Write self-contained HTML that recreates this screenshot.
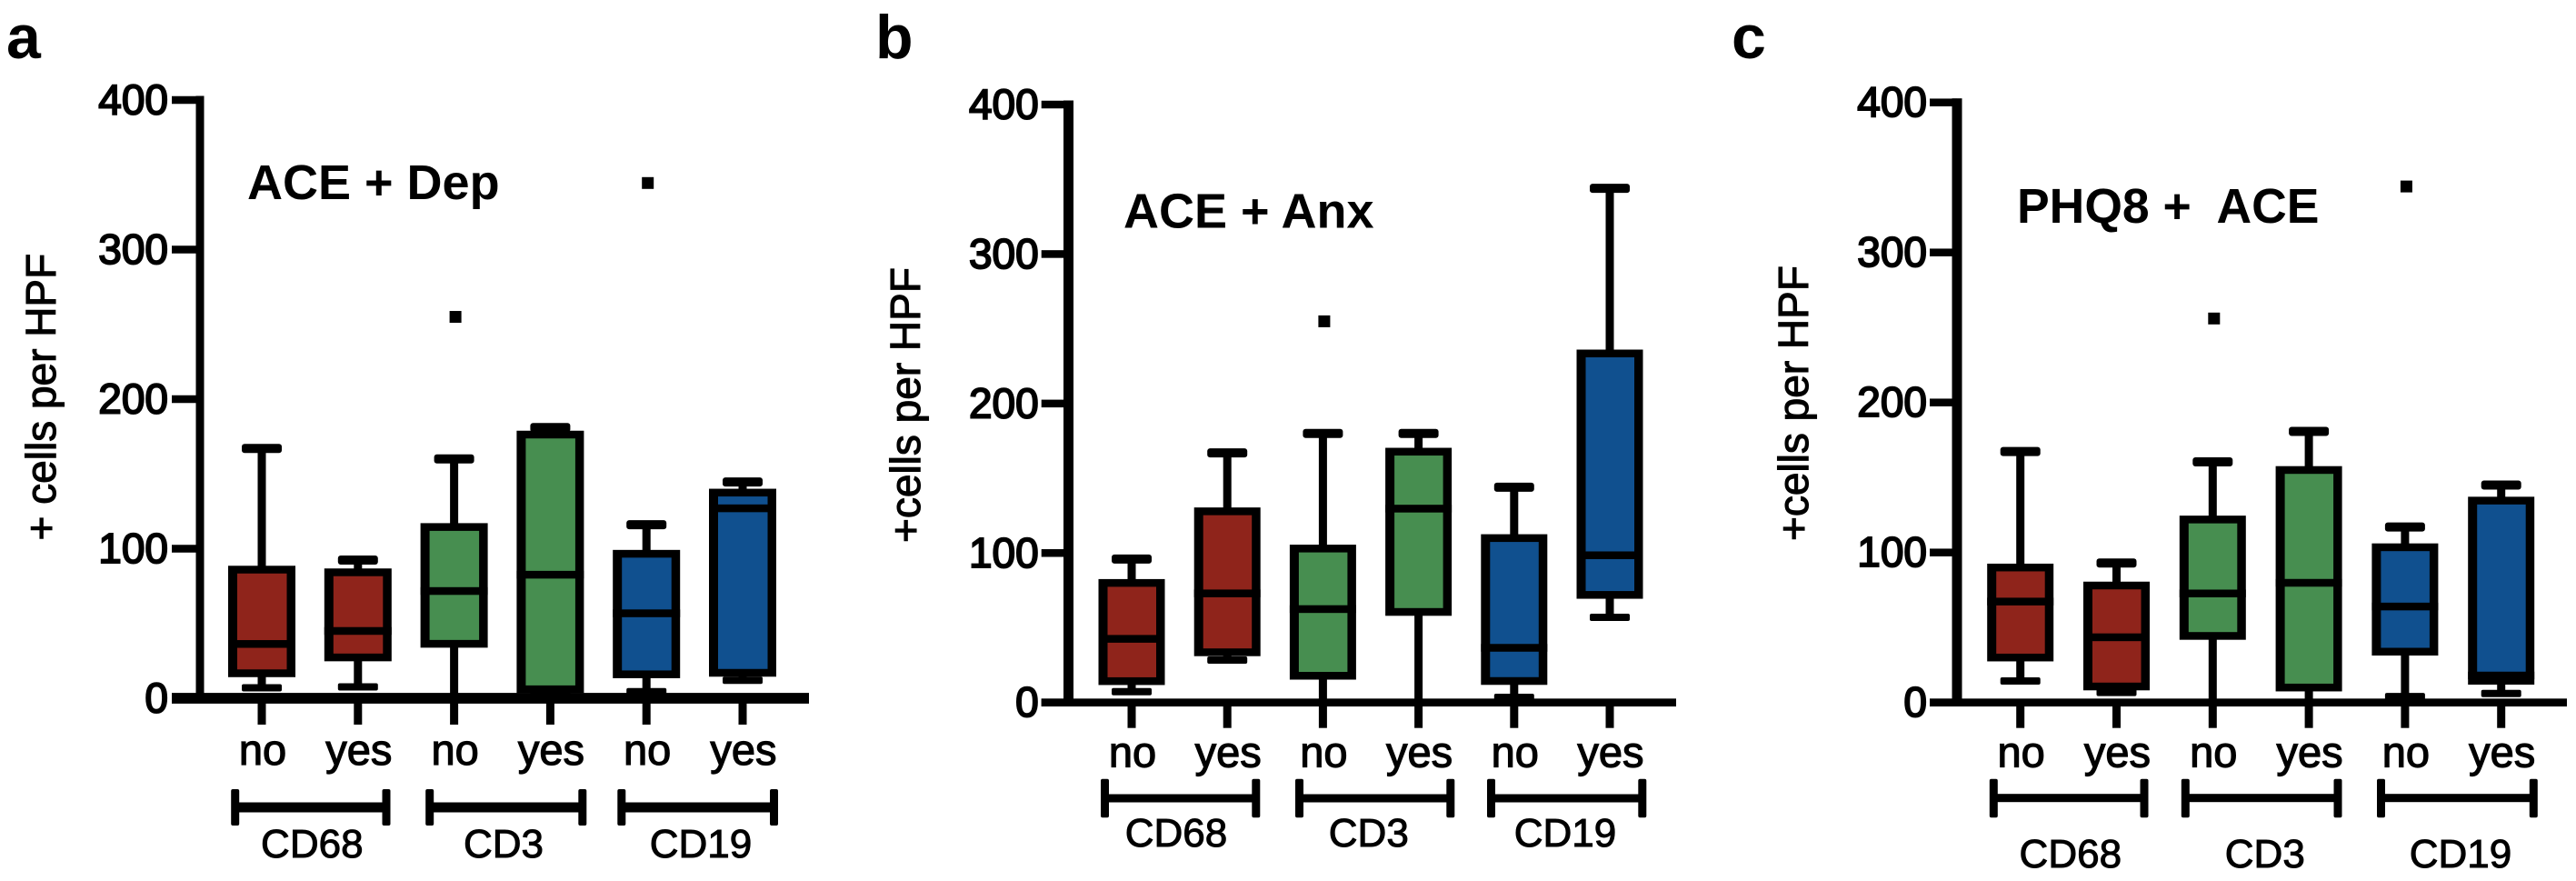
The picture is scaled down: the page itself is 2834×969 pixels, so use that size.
<!DOCTYPE html>
<html lang="en">
<head>
<meta charset="utf-8">
<title>Immune cell counts per HPF by ACE, depression and anxiety status</title>
<style>
  html, body { margin: 0; padding: 0; background: #fff; }
  body { width: 2834px; height: 969px; overflow: hidden; }
  svg { display: block; }
  text { font-family: "Liberation Sans", Arial, sans-serif; fill: #000; }
  .panel-letter { font-size: 68px; font-weight: 700; }
  .panel-title { font-size: 54px; font-weight: 700; white-space: pre; }
  .y-title { font-size: 46px; stroke: #000; stroke-width: 1.1px; }
  .tick-label { font-size: 46px; stroke: #000; stroke-width: 1.9px; text-anchor: end; }
  .cat-label { font-size: 47px; stroke: #000; stroke-width: 1.2px; text-anchor: middle; }
  .group-label { font-size: 44px; stroke: #000; stroke-width: 1px; text-anchor: middle; }
</style>
</head>
<body>
<svg id="figure" xmlns="http://www.w3.org/2000/svg" width="2834" height="969" viewBox="0 0 2834 969">
  <rect x="0" y="0" width="2834" height="969" fill="#fff"/>

  <g id="panel-a"></g>
  <g id="panel-b"></g>
  <g id="panel-c"></g>

  <text class="panel-letter" x="7" y="64">a</text>
  <text class="panel-letter" x="963" y="64">b</text>
  <text class="panel-letter" x="1905" y="64">c</text>

  <text class="panel-title" x="272" y="219">ACE + Dep</text>
  <text class="panel-title" x="1236" y="250.5">ACE + Anx</text>
  <text class="panel-title" x="2219" y="245" style="font-size:53.5px">PHQ8 +  ACE</text>

  <text class="y-title" transform="translate(61 594.5) rotate(-90)" x="0" y="0">+ cells per HPF</text>
  <text class="y-title" transform="translate(1012 597) rotate(-90)" x="0" y="0">+cells per HPF</text>
  <text class="y-title" transform="translate(1989 595) rotate(-90)" x="0" y="0">+cells per HPF</text>
</svg>

<script>
// ---- shared categories and ticks ----
const categories = ['no', 'yes', 'no', 'yes', 'no', 'yes'];
const markers = ['CD68', 'CD3', 'CD19'];
const markerOfBox = [0, 0, 1, 1, 2, 2];
const yTicks = [0, 100, 200, 300, 400];

// ---- panel a: ACE + Dep ----
const aHigh = [167, 92.4, 160, 181, 116, 144.6];
const aQ3 = [86, 84.2, 114.5, 176.3, 96.6, 137.5];
const aMedian = [36.3, 45, 71.7, 82.6, 56.8, 127];
const aQ1 = [16.7, 27.3, 36.4, 6, 16, 17];
const aLow = [7, 7.6, 0, 3, 4.4, 12];
const aOutliers = [null, null, 255, null, 344.5, null];

// ---- panel b: ACE + Anx ----
const bHigh = [96, 167, 180, 180, 144, 344];
const bQ3 = [80, 127.9, 103, 167.8, 110, 233.5];
const bMedian = [42.6, 73, 62.5, 129.7, 36.6, 98.5];
const bQ1 = [14.3, 33.6, 17.9, 60.6, 14.4, 72];
const bLow = [7.3, 28.4, 0, 0, 3.5, 57];
const bOutliers = [null, null, 255, null, null, null];

// ---- panel c: PHQ8 + ACE ----
const cHigh = [167.3, 93, 160.4, 180.7, 117, 145];
const cQ3 = [90, 78, 122, 155, 103.5, 134.6];
const cMedian = [67.3, 43.5, 72.7, 79.8, 64, 18];
const cQ1 = [30, 10.7, 44.4, 10, 33.9, 14.5];
const cLow = [14.4, 6.7, 0, 0, 4, 6];
const cOutliers = [null, null, 256, null, 344, null];

// ---- marker colours ----
const markerColors = ['#8f241b', '#478e50', '#10508f'];

const SVG_NS = 'http://www.w3.org/2000/svg';

function shape(parent, tag, attrs) {
  const el = document.createElementNS(SVG_NS, tag);
  for (const key in attrs) el.setAttribute(key, attrs[key]);
  parent.appendChild(el);
  return el;
}

function drawPanel(id, layout, series) {
  const root = document.getElementById(id);
  const yMax = yTicks[yTicks.length - 1];
  const y = v => layout.y0 - v * (layout.y0 - layout.yTop) / yMax;
  const x = i => layout.x0 + i * layout.step;

  // y axis line
  const yAxis = shape(root, 'rect', {
    x: layout.axisX - layout.axisW / 2, y: y(yMax) - 4.5,
    width: layout.axisW, height: layout.y0 - y(yMax) + 4.5, fill: '#000'
  });
  
  

  // y ticks and labels
  yTicks.forEach(function (t) {
    const tick = shape(root, 'rect', {
      x: layout.tickLeft, y: y(t) - 4.25,
      width: layout.axisX - layout.tickLeft, height: 8.5, fill: '#000'
    });
    
    

    const label = shape(root, 'text', { class: 'tick-label', x: layout.labelRight, y: y(t) + 15.5 });
    label.textContent = String(t);
    
    
  });

  // x axis line
  const xAxis = shape(root, 'rect', {
    x: layout.tickLeft, y: layout.y0 - layout.baseT / 2,
    width: layout.axisRight - layout.tickLeft, height: layout.baseT, fill: '#000'
  });
  
  

  // boxes
  categories.forEach(function (cat, i) {
    const cx = x(i);
    const slug = id + '-' + markers[markerOfBox[i]].toLowerCase() + '-' + cat;

    const g = shape(root, 'g', {});
    
    

    const xTick = shape(root, 'rect', {
      x: cx - 4.5, y: layout.y0, width: 9, height: layout.tickBottom - layout.y0, fill: '#000'
    });
    
    

    const catLabel = shape(root, 'text', { class: 'cat-label', x: cx + 1, y: layout.catBaseline });
    catLabel.textContent = cat;
    
    

    const whisker = shape(g, 'rect', {
      x: cx - 4.5, y: y(series.high[i]),
      width: 9, height: y(series.low[i]) - y(series.high[i]), fill: '#000'
    });
    
    

    const capHigh = shape(g, 'rect', {
      x: cx - 22, y: y(series.high[i]) - 5, width: 44, height: 10, rx: 3, fill: '#000'
    });
    
    

    const capLow = shape(g, 'rect', {
      x: cx - 22, y: y(series.low[i]) - 4, width: 44, height: 8, rx: 2, fill: '#000'
    });
    
    

    const boxTop = y(series.q3[i]);
    const boxBottom = y(series.q1[i]);
    const frame = shape(g, 'rect', {
      x: cx - layout.boxW / 2, y: boxTop - 4.25,
      width: layout.boxW, height: boxBottom - boxTop + 8.5, fill: '#000'
    });
    
    

    const fill = shape(g, 'rect', {
      x: cx - layout.boxW / 2 + 10, y: boxTop + 4.25,
      width: layout.boxW - 19.5, height: Math.max(0, boxBottom - boxTop - 8.5),
      fill: markerColors[markerOfBox[i]]
    });
    
    

    const median = shape(g, 'rect', {
      x: cx - layout.boxW / 2, y: y(series.median[i]) - 4.25,
      width: layout.boxW, height: 8.5, fill: '#000'
    });
    
    

    if (series.outliers[i] !== null) {
      const outlier = shape(g, 'rect', {
        x: cx - 5, y: y(series.outliers[i]) - 6.5, width: 13, height: 13, fill: '#000'
      });
      
      
    }
  });

  // marker group brackets
  markers.forEach(function (name, m) {
    const slug = id + '-' + name.toLowerCase();
    const left = layout.bracketLeft[m];
    const right = layout.bracketRight[m];

    const bar = shape(root, 'rect', {
      x: left, y: layout.bracketY - layout.bracketT / 2,
      width: right - left, height: layout.bracketT, fill: '#000'
    });
    
    

    const endLeft = shape(root, 'rect', {
      x: left - 4.5, y: layout.bracketTop, width: 9,
      height: layout.bracketBottom - layout.bracketTop, rx: 2, fill: '#000'
    });
    
    

    const endRight = shape(root, 'rect', {
      x: right - 4.5, y: layout.bracketTop, width: 9,
      height: layout.bracketBottom - layout.bracketTop, rx: 2, fill: '#000'
    });
    
    

    const label = shape(root, 'text', { class: 'group-label', x: layout.groupLabelX[m], y: layout.groupBaseline });
    label.textContent = name;
    
    
  });
}

drawPanel('panel-a', {
  x0: 288, step: 105.8, y0: 768, yTop: 110, axisX: 220, axisW: 9, baseT: 11.8,
  tickLeft: 189, axisRight: 890, tickBottom: 797, labelRight: 185, catBaseline: 841, boxW: 74,
  bracketY: 888, bracketT: 11, bracketTop: 868, bracketBottom: 908,
  bracketLeft: [258.7, 472.7, 683.8], bracketRight: [425, 640.8, 851.5],
  groupLabelX: [343.3, 554, 771], groupBaseline: 943
}, { high: aHigh, q3: aQ3, median: aMedian, q1: aQ1, low: aLow, outliers: aOutliers });

drawPanel('panel-b', {
  x0: 1245, step: 105.2, y0: 772.7, yTop: 115, axisX: 1175.5, axisW: 11, baseT: 8.7,
  tickLeft: 1145.7, axisRight: 1844, tickBottom: 800.7, labelRight: 1142.7, catBaseline: 843.3, boxW: 73,
  bracketY: 878, bracketT: 9, bracketTop: 856.7, bracketBottom: 899.3,
  bracketLeft: [1215.5, 1429.5, 1640.5], bracketRight: [1381.8, 1595.8, 1806.8],
  groupLabelX: [1294, 1505.8, 1722], groupBaseline: 931
}, { high: bHigh, q3: bQ3, median: bMedian, q1: bQ1, low: bLow, outliers: bOutliers });

drawPanel('panel-c', {
  x0: 2222.7, step: 105.8, y0: 772.7, yTop: 112.7, axisX: 2153, axisW: 11, baseT: 8.7,
  tickLeft: 2123, axisRight: 2824, tickBottom: 800.7, labelRight: 2120, catBaseline: 843.3, boxW: 73,
  bracketY: 877.7, bracketT: 9, bracketTop: 856.7, bracketBottom: 899.3,
  bracketLeft: [2193.3, 2404.3, 2619.5], bracketRight: [2359, 2572, 2787.3],
  groupLabelX: [2277.8, 2491.8, 2707], groupBaseline: 954
}, { high: cHigh, q3: cQ3, median: cMedian, q1: cQ1, low: cLow, outliers: cOutliers });
</script>
</body>
</html>
